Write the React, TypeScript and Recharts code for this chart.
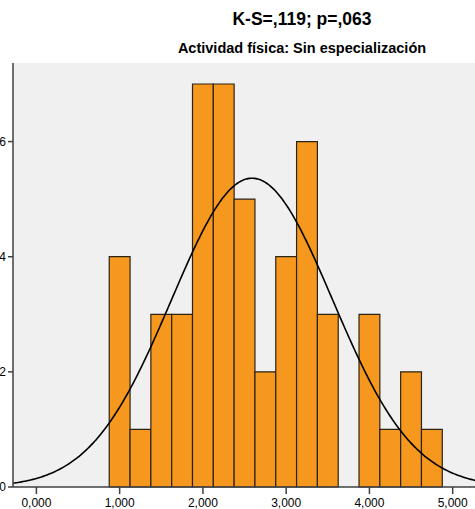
import { ComposedChart, Line, ReferenceArea, XAxis, YAxis } from "recharts";

// histogram bins: width 0.25, first bin starts at 0.875
const binStart = 0.875;
const binWidth = 0.25;
const counts = [4, 1, 3, 3, 7, 7, 5, 2, 4, 6, 3, 0, 3, 1, 2, 1];

// fitted normal curve
const sampleN = 52;
const sampleMean = 2.59;
const sampleSd = 0.967;

const xTicks = [0, 1, 2, 3, 4, 5];
const yTicks = [0, 2, 4, 6];

const xMin = -0.281;
const xMax = 5.268;
const yMax = 7.365;

const title = "K-S=,119; p=,063";
const subtitle = "Actividad física: Sin especialización";

const bins = counts.map((c, i) => ({ lo: binStart + i * binWidth, hi: binStart + (i + 1) * binWidth, count: c }));

const curve: { x: number; y: number }[] = [];
for (let x = -0.3; x <= 5.3; x += 0.02) {
  const z = (x - sampleMean) / sampleSd;
  curve.push({ x, y: (sampleN * binWidth * Math.exp(-0.5 * z * z)) / (sampleSd * Math.sqrt(2 * Math.PI)) });
}

const font = "'Liberation Sans', Arial, sans-serif";
const tickStyle = { fill: "#000", fontSize: 12, fontFamily: font };

export default function App() {
  return (
    <div style={{ position: "absolute", left: 0, top: 0, width: 475, height: 509, overflow: "hidden", background: "#fff" }}>
      <div style={{ position: "absolute", left: 0, width: 604, top: 9, textAlign: "center", fontFamily: font, fontWeight: "bold", fontSize: 17.5, lineHeight: "20px", whiteSpace: "nowrap" }}>
        {title}
      </div>
      <div style={{ position: "absolute", left: 0, width: 604, top: 40, textAlign: "center", fontFamily: font, fontWeight: "bold", fontSize: 14.5, lineHeight: "17px", whiteSpace: "nowrap" }}>
        {subtitle}
      </div>
      <ComposedChart width={475} height={509} data={curve} margin={{ top: 63, right: 0, left: 0, bottom: 0 }} style={{ position: "absolute", left: 0, top: 0 }}>
        <XAxis
          dataKey="x"
          type="number"
          domain={[xMin, xMax]}
          ticks={xTicks}
          allowDataOverflow
          tickFormatter={(v: number) => v.toFixed(3).replace(".", ",")}
          tick={tickStyle}
          tickSize={7}
          tickMargin={4}
          height={22}
          axisLine={{ stroke: "#404040", strokeWidth: 1.5 }}
          tickLine={{ stroke: "#404040", strokeWidth: 1.5 }}
        />
        <XAxis xAxisId="top" orientation="top" type="number" domain={[xMin, xMax]} height={0} tick={false} tickLine={false} axisLine={{ stroke: "#707070", strokeWidth: 1.5 }} />
        <YAxis
          type="number"
          domain={[0, yMax]}
          ticks={yTicks}
          allowDataOverflow
          tick={tickStyle}
          tickSize={5}
          tickMargin={2}
          width={13}
          axisLine={{ stroke: "#404040", strokeWidth: 1.5 }}
          tickLine={{ stroke: "#404040", strokeWidth: 1.5 }}
        />
        <ReferenceArea x1={xMin} x2={xMax} y1={0} y2={yMax} fill="#F0F0F0" fillOpacity={1} stroke="none" />
        {bins
          .filter((b) => b.count > 0)
          .map((b) => (
            <ReferenceArea
              key={b.lo}
              x1={b.lo}
              x2={b.hi}
              y1={0}
              y2={b.count}
              fill="#F7981E"
              fillOpacity={1}
              stroke="#2b2316"
              strokeWidth={1.2}
            />
          ))}
        <Line dataKey="y" type="monotone" stroke="#000" strokeWidth={1.6} dot={false} activeDot={false} isAnimationActive={false} />
      </ComposedChart>
    </div>
  );
}
